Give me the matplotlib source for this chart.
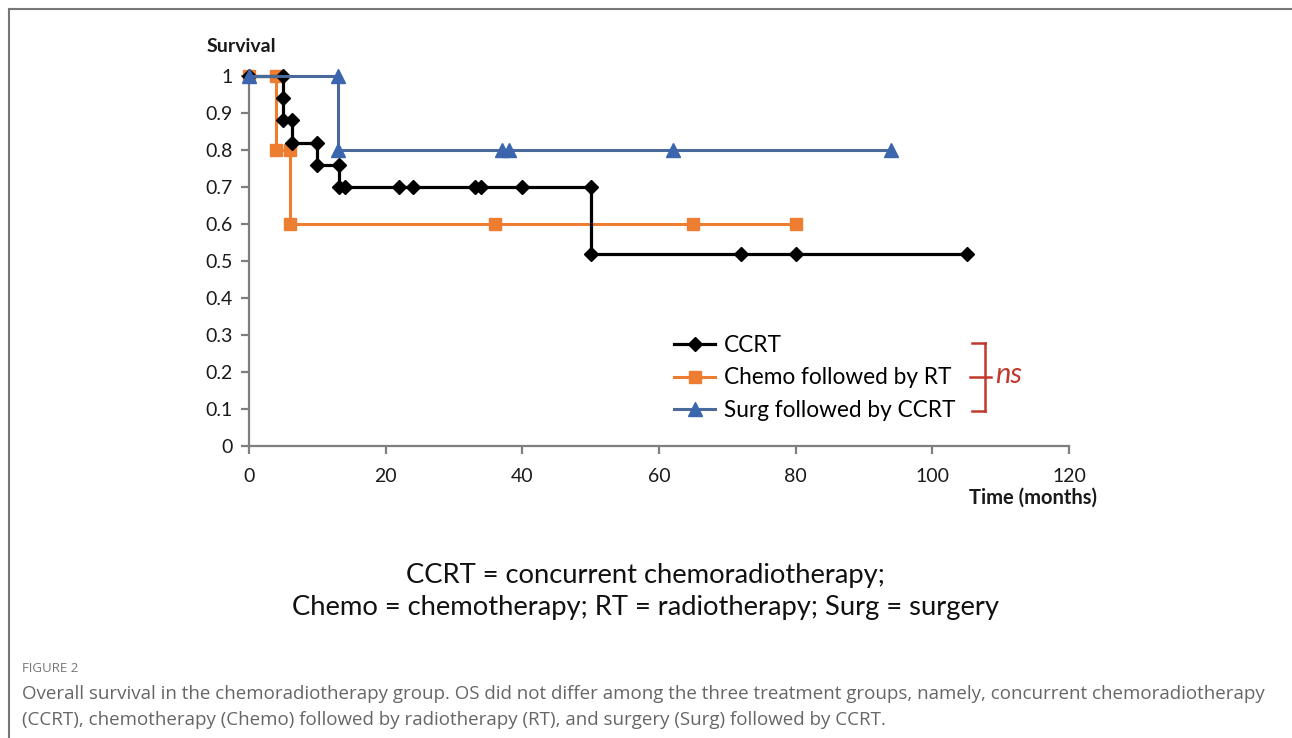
import matplotlib
matplotlib.use("Agg")
from matplotlib import pyplot as plt
from matplotlib.lines import Line2D

# Kaplan-Meier style step curves, as drawn (vertices incl. censor marks)
ccrt_t = [0, 5, 5, 5, 6.3, 6.3, 10, 10, 13.2, 13.2, 14, 22, 24, 33, 34, 40, 50, 50, 72, 80, 105]
ccrt_s = [1, 1, 0.94, 0.88, 0.88, 0.82, 0.82, 0.76, 0.76, 0.70, 0.70, 0.70, 0.70, 0.70, 0.70,
          0.70, 0.70, 0.52, 0.52, 0.52, 0.52]
chemo_t = [0, 4, 4, 6, 6, 36, 65, 80]
chemo_s = [1, 1, 0.8, 0.8, 0.6, 0.6, 0.6, 0.6]
surg_t = [0, 13, 13, 37, 38, 62, 94]
surg_s = [1, 1, 0.8, 0.8, 0.8, 0.8, 0.8]

labels = ["CCRT", "Chemo followed by RT", "Surg followed by CCRT"]
x_ticks = [0, 20, 40, 60, 80, 100, 120]
y_ticks = [0, 0.1, 0.2, 0.3, 0.4, 0.5, 0.6, 0.7, 0.8, 0.9, 1]

note_lines = ["CCRT = concurrent chemoradiotherapy;",
              "Chemo = chemotherapy; RT = radiotherapy; Surg = surgery"]
fig_label = "FIGURE 2"
caption = ["Overall survival in the chemoradiotherapy group. OS did not differ among the three treatment groups, namely, concurrent chemoradiotherapy",
           "(CCRT), chemotherapy (Chemo) followed by radiotherapy (RT), and surgery (Surg) followed by CCRT."]

W, H = 1292, 738
fig = plt.figure(figsize=(W / 100, H / 100), dpi=100)
fig.patch.set_facecolor("white")

chart_font = "Lato"
axis_gray = "#7f7f7f"

ax = fig.add_axes([249 / W, 1 - 446 / H, (1069 - 249) / W, (446 - 76) / H])

orange = "#ED7D31"
blue_line = "#4A6A9C"
blue_mark = "#3B66AE"

ax.plot(chemo_t, chemo_s, color=orange, lw=2.2, marker="s", ms=8.5,
        mfc=orange, mec=orange, clip_on=False, zorder=3)
ax.plot(ccrt_t, ccrt_s, color="black", lw=2.3, marker="D", ms=7.5,
        mfc="black", mec="black", clip_on=False, zorder=4)
ax.plot(surg_t, surg_s, color=blue_line, lw=2.2, marker="^", ms=10,
        mfc=blue_mark, mec=blue_mark, clip_on=False, zorder=5)

ax.set_xlim(0, 120)
ax.set_ylim(0, 1)
ax.set_xticks(x_ticks)
ax.set_yticks(y_ticks)
ax.set_xticklabels([f"{v:g}" for v in x_ticks])
ax.set_yticklabels([f"{v:g}" for v in y_ticks])
for s in ["top", "right"]:
    ax.spines[s].set_visible(False)
for s in ["left", "bottom"]:
    ax.spines[s].set_color(axis_gray)
    ax.spines[s].set_linewidth(1.6)
ax.tick_params(axis="both", direction="out", color=axis_gray, width=1.6, length=6,
               labelsize=14, labelcolor="#1a1a1a")
ax.tick_params(axis="x", pad=10)
ax.tick_params(axis="y", pad=6)
for lab in ax.get_xticklabels() + ax.get_yticklabels():
    lab.set_fontfamily(chart_font)

fig.text(207 / W, 1 - 47 / H, "Survival", fontfamily=chart_font, fontweight="bold",
         fontsize=14, ha="left", va="center", color="#1a1a1a")
fig.text(1097 / W, 1 - 498 / H, "Time (months)", fontfamily=chart_font, fontweight="bold",
         fontsize=14.5, ha="right", va="center", color="#1a1a1a")

# legend
handles = [
    Line2D([], [], color="black", lw=2.3, marker="D", ms=7.5),
    Line2D([], [], color=orange, lw=2.2, marker="s", ms=8.5),
    Line2D([], [], color=blue_line, lw=2.2, marker="^", ms=10, mfc=blue_mark, mec=blue_mark),
]
leg = ax.legend(handles, labels, loc="center left", bbox_to_anchor=(654 / W, 1 - 378 / H),
                bbox_transform=fig.transFigure, frameon=False, handlelength=1.8,
                handletextpad=0.4, labelspacing=0.52,
                prop={"family": chart_font, "size": 16.3})

# significance bracket
red = "#C0392B"
bx = 985 / W
y_top, y_mid, y_bot = 1 - 343 / H, 1 - 377 / H, 1 - 411 / H
fig.add_artist(Line2D([bx, bx], [y_top, y_bot], color=red, lw=1.8, transform=fig.transFigure))
for yy in (y_top, y_bot):
    fig.add_artist(Line2D([972 / W, bx], [yy, yy], color=red, lw=1.8, transform=fig.transFigure))
fig.add_artist(Line2D([970 / W, 991 / W], [y_mid, y_mid], color=red, lw=1.8, transform=fig.transFigure))
fig.text(995 / W, y_mid + 2 / H, "ns", color=red, fontfamily=chart_font, fontstyle="italic",
         fontsize=21, ha="left", va="center")

# abbreviation note
fig.text(645 / W, 1 - 575 / H, note_lines[0], fontfamily=chart_font, fontsize=19.7,
         ha="center", va="center", color="#111111")
fig.text(645 / W, 1 - 607 / H, note_lines[1], fontfamily=chart_font, fontsize=19.7,
         ha="center", va="center", color="#111111")

# figure caption
fig.text(22 / W, 1 - 669 / H, fig_label, fontfamily="Open Sans", fontsize=9.5,
         ha="left", va="center", color="#777777")
fig.text(22 / W, 1 - 694 / H, caption[0], fontfamily="Open Sans", fontsize=13.5,
         ha="left", va="center", color="#666666")
fig.text(22 / W, 1 - 720 / H, caption[1], fontfamily="Open Sans", fontsize=13.5,
         ha="left", va="center", color="#666666")

# page frame (left and top rules)
fig.add_artist(Line2D([9 / W, 9 / W], [0, 1 - 9 / H], color="#777777", lw=1.5, transform=fig.transFigure))
fig.add_artist(Line2D([9 / W, 1], [1 - 9 / H, 1 - 9 / H], color="#777777", lw=1.5, transform=fig.transFigure))

fig.savefig("out.png", dpi=100, facecolor="white")
